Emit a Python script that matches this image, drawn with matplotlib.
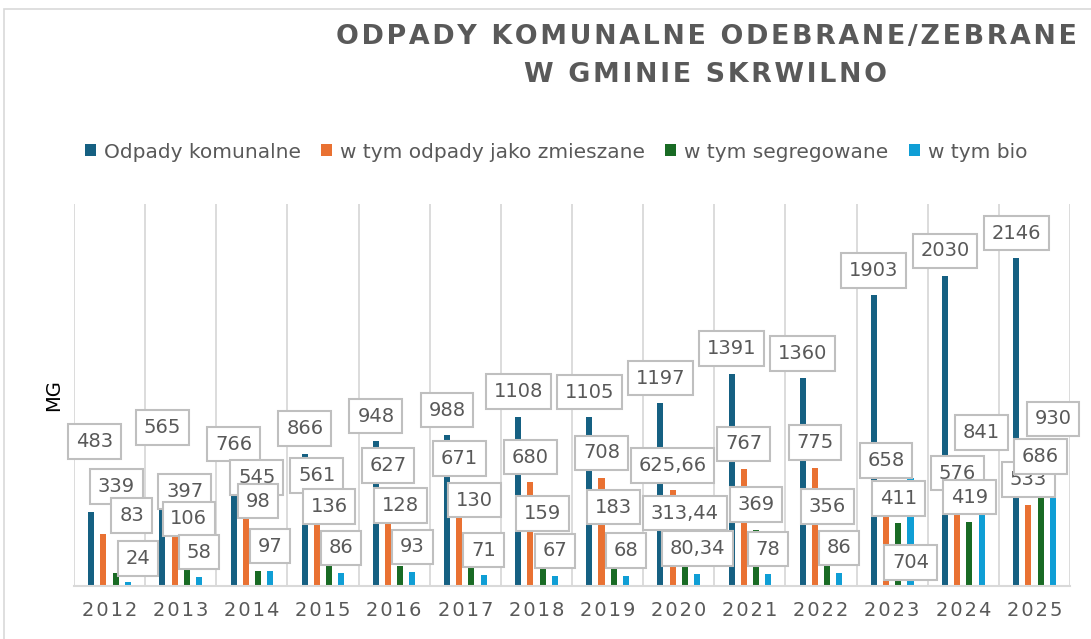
import matplotlib
matplotlib.use("Agg")
import matplotlib.pyplot as plt
from matplotlib.patches import Patch, Rectangle
import numpy as np

# dane
years = ['2012', '2013', '2014', '2015', '2016', '2017', '2018',
         '2019', '2020', '2021', '2022', '2023', '2024', '2025']
odpady_komunalne = [483, 565, 766, 866, 948, 988, 1108, 1105, 1197, 1391, 1360, 1903, 2030, 2146]
zmieszane = [339, 397, 545, 561, 627, 671, 680, 708, 625.66, 767, 775, 658, 576, 533]
segregowane = [83, 106, 98, 136, 128, 130, 159, 183, 313.44, 369, 356, 411, 419, 686]
bio = [24, 58, 97, 86, 93, 71, 67, 68, 80.34, 78, 86, 704, 841, 930]
series_names = ['Odpady komunalne', 'w tym odpady jako zmieszane',
                'w tym segregowane', 'w tym bio']
colors = ['#156082', '#E97132', '#196B24', '#0F9ED5']

# przesuniecia etykiet (piksele) - domyslnie nad slupkiem
label_default = (0, 25)
label_shift = {
    (0, 0): (3, 71), (1, 0): (0, 72),
    (0, 1): (13, 48), (1, 1): (10, 34), (2, 1): (11, 25),
    (0, 2): (16, 58), (1, 2): (2, 51), (2, 2): (0, 70), (3, 2): (0, 59),
    (4, 2): (0, 61), (5, 2): (3, 66), (6, 2): (0, 48), (7, 2): (0, 51),
    (0, 3): (10, 24), (11, 3): (0, -84),
}

GRAY = '#595959'
GRID = '#d9d9d9'


def fmt(v):
    if float(v).is_integer():
        return str(int(v))
    return f"{v:.2f}".replace('.', ',')


def spaced(s, sep='\u200a'):
    return sep.join(s)


fig = plt.figure(figsize=(10.91, 6.39), dpi=100)
ax = fig.add_axes([0.0678, 0.0829, 0.9130, 0.5977])

x = np.arange(len(years))
width = 0.085
step = 0.1715
all_series = [odpady_komunalne, zmieszane, segregowane, bio]

for j, vals in enumerate(all_series):
    pos = x + (j - 1.5) * step
    ax.bar(pos, vals, width=width, color=colors[j], zorder=2)

# etykiety danych
z = 5
for j, vals in enumerate(all_series):
    pos = x + (j - 1.5) * step
    for i, v in enumerate(vals):
        dx, dy = label_shift.get((i, j), label_default)
        ax.annotate(fmt(v), xy=(pos[i], v), xytext=(dx, dy),
                    textcoords='offset pixels', ha='center', va='center',
                    fontsize=14, color=GRAY, zorder=z,
                    bbox=dict(boxstyle='square,pad=0.4', fc='white',
                              ec='#bfbfbf', lw=1.5))
        z += 0.01

ax.set_xlim(-0.5, len(years) - 0.5)
ax.set_ylim(0, 2500)
ax.set_xticks(x)
ax.set_xticklabels([spaced(y) for y in years], fontsize=14, color=GRAY)
ax.set_xticks(np.arange(-0.5, len(years), 1.0), minor=True)
ax.tick_params(axis='x', which='both', length=0, pad=11)
ax.grid(axis='x', which='minor', color=GRID, lw=1.3, zorder=0)
ax.set_yticks([])
for s in ['top', 'right', 'left']:
    ax.spines[s].set_visible(False)
ax.spines['bottom'].set_color(GRID)
ax.spines['bottom'].set_linewidth(1.5)

ax.set_ylabel('MG', fontsize=14, color='black')
ax.yaxis.set_label_coords(-0.011, 0.5)

# tytul
fig.text(706 / 1091, 1 - 37 / 639, spaced('ODPADY KOMUNALNE ODEBRANE/ZEBRANE'),
         ha='center', va='center', fontsize=19.4, fontweight='bold', color=GRAY)
fig.text(705 / 1091, 1 - 75 / 639, spaced('W GMINIE SKRWILNO'),
         ha='center', va='center', fontsize=19.4, fontweight='bold', color=GRAY)

# legenda
handles = [Patch(facecolor=c, edgecolor='none') for c in colors]
fig.legend(handles, series_names, loc='center', ncol=4,
           bbox_to_anchor=(556 / 1091, 1 - 152 / 639), frameon=False,
           fontsize=14.5, labelcolor=GRAY, handlelength=0.55, handleheight=0.55,
           handletextpad=0.4, columnspacing=1.0)

# ramka wykresu
fig.add_artist(Rectangle((4 / 1091, -0.2), 1.5, 1.2 - 9 / 639,
                         transform=fig.transFigure, fill=False,
                         ec=GRID, lw=1.2))

plt.savefig('out.png', dpi=100)
